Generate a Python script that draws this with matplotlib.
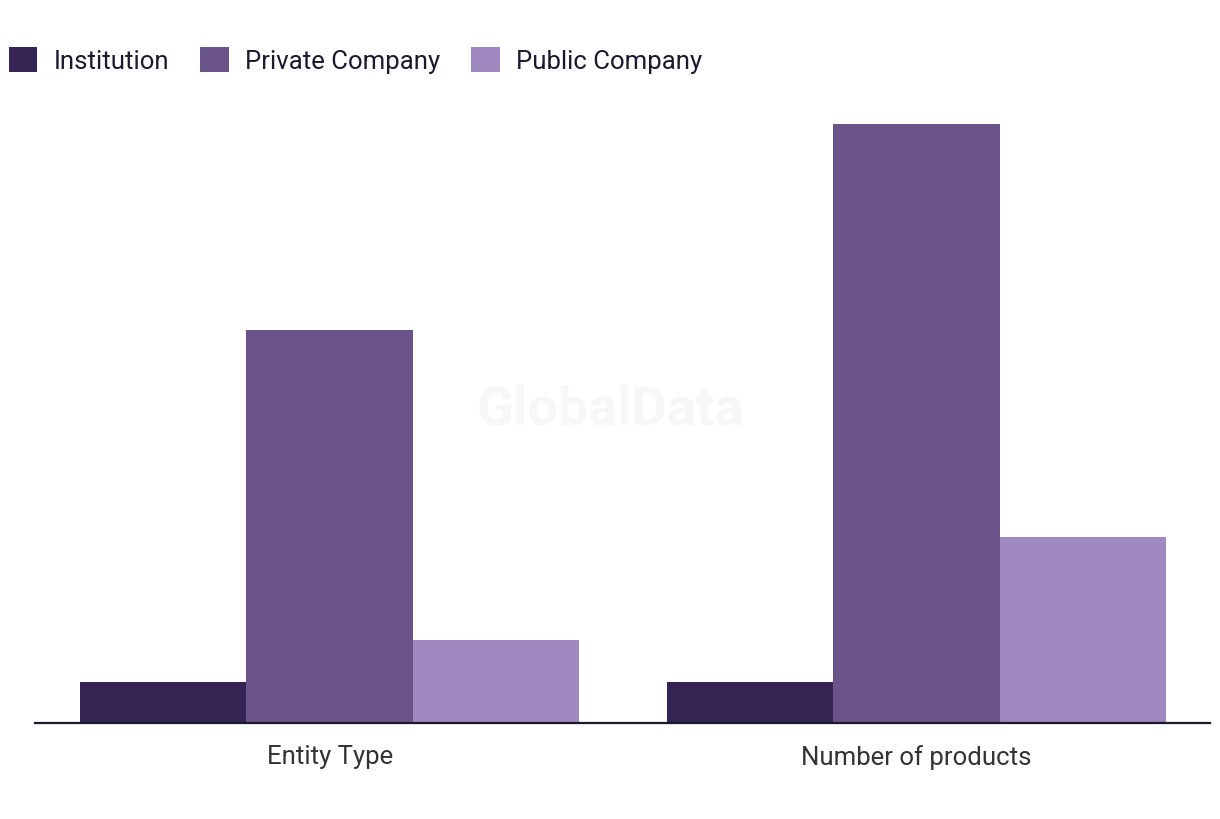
import matplotlib.pyplot as plt
import numpy as np

categories = ["Entity Type", "Number of products"]
series = ["Institution", "Private Company", "Public Company"]
institution = [2, 2]
private_company = [19, 29]
public_company = [4, 9]

colors = ["#362554", "#6a5489", "#a088c0"]

plt.rcParams['font.family'] = ['Roboto', 'DejaVu Sans']

fig = plt.figure(figsize=(12.2, 8.2), dpi=100)
ax = fig.add_axes([35/1220, 1 - 724/820, 1175/1220, 624/820])

x = np.arange(len(categories))
w = 0.2836
for i, (vals, name) in enumerate(zip([institution, private_company, public_company], series)):
    ax.bar(x + (i - 1) * w, vals, width=w, color=colors[i], label=name, linewidth=0)

ax.set_xlim(-0.502, 1.5)
ax.set_ylim(0, 30.2)
ax.set_xticks(x)
ax.set_xticklabels(categories, fontsize=18.5, color="#333333")
ax.tick_params(axis="x", length=0, pad=15)
ax.set_yticks([])
for s in ["top", "right", "left"]:
    ax.spines[s].set_visible(False)
ax.spines["bottom"].set_color("#1a1a2e")
ax.spines["bottom"].set_linewidth(1.6)

fig.text(610/1220, 1 - 410/820, "GlobalData", fontsize=39, fontweight="bold",
         color="#f7f7f7", ha="center", va="center", zorder=0)

leg = fig.legend(loc="upper left", bbox_to_anchor=(-12/1220, 1 - 27/820), ncol=3, frameon=False,
                 fontsize=18.5, handlelength=1.12, handleheight=1.12, handletextpad=0.62,
                 columnspacing=1.22, labelcolor="#1a1a2e", borderaxespad=0.4)

fig.savefig("out.png", dpi=100)
